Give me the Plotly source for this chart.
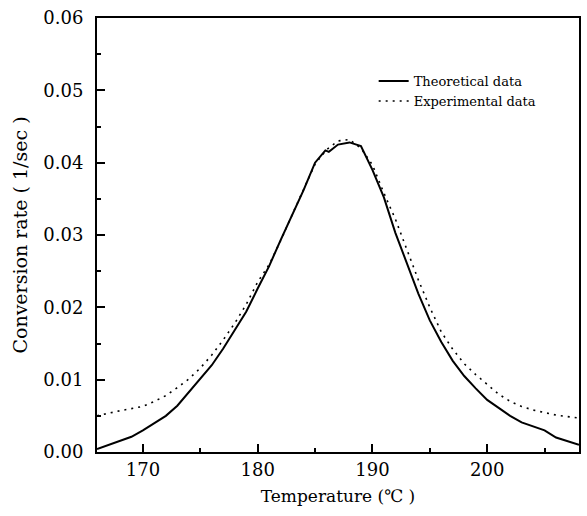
import plotly.graph_objects as go

temp_theory = [166, 167, 168, 169, 170, 171, 172, 173, 174, 175, 176, 177, 178, 179, 180,
               181, 182, 183, 184, 185, 185.9, 186.2, 187, 188, 189, 190, 191, 192, 193, 194,
               195, 196, 197, 198, 199, 200, 201, 202, 203, 204, 205, 206, 207, 208]
rate_theory = [0.0004, 0.0010, 0.0015, 0.0021, 0.0030, 0.0040, 0.0050, 0.0064, 0.0083, 0.0101,
               0.0120, 0.0143, 0.0168, 0.0194, 0.0226, 0.0257, 0.0293, 0.0328, 0.0362, 0.0400,
               0.0417, 0.0415, 0.0425, 0.0428, 0.0423, 0.0390, 0.0352, 0.0303, 0.0260, 0.0219,
               0.0182, 0.0152, 0.0126, 0.0105, 0.0088, 0.0072, 0.0061, 0.0050, 0.0041, 0.0035,
               0.0030, 0.0020, 0.0015, 0.0010]

temp_exp = [166, 167, 168, 169, 170, 171, 172, 173, 174, 175, 176, 177, 178, 179, 180, 181,
            182, 183, 184, 185, 186, 187, 188, 189, 190, 191, 192, 193, 194, 195, 196, 197,
            198, 199, 200, 201, 202, 203, 204, 205, 206, 207, 208]
rate_exp = [0.0050, 0.0054, 0.0057, 0.0060, 0.0063, 0.0070, 0.0078, 0.0089, 0.0101, 0.0116,
            0.0134, 0.0155, 0.0178, 0.0204, 0.0235, 0.0259, 0.0292, 0.0328, 0.0364, 0.0398,
            0.0418, 0.0430, 0.0432, 0.0420, 0.0397, 0.0358, 0.0322, 0.0280, 0.0238, 0.0200,
            0.0166, 0.0142, 0.0122, 0.0107, 0.0093, 0.0080, 0.0070, 0.0063, 0.0058, 0.0054,
            0.0051, 0.0049, 0.0047]

x_ticks = [170, 180, 190, 200]
y_ticks = [0.00, 0.01, 0.02, 0.03, 0.04, 0.05, 0.06]
y_tick_labels = ["0.00", "0.01", "0.02", "0.03", "0.04", "0.05", "0.06"]

FONT = "DejaVu Serif"

fig = go.Figure()
fig.add_trace(go.Scatter(x=temp_theory, y=rate_theory, mode="lines", name="Theoretical data",
                         line=dict(color="black", width=2)))
fig.add_trace(go.Scatter(x=temp_exp, y=rate_exp, mode="lines", name="Experimental data",
                         line=dict(color="black", width=1.6, dash="2px,5px")))

fig.update_layout(
    width=587, height=516,
    margin=dict(l=97, r=6, t=18, b=64),
    paper_bgcolor="white", plot_bgcolor="white",
    font=dict(family=FONT, color="black", size=17),
    showlegend=True,
    legend=dict(x=0.574, y=0.889, xanchor="left", yanchor="top",
                bgcolor="rgba(0,0,0,0)", borderwidth=0,
                font=dict(family=FONT, size=13), tracegroupgap=0),
)
fig.update_xaxes(
    range=[166, 208], tickvals=x_ticks, ticks="inside", ticklen=8, tickwidth=2,
    tickcolor="black", showline=True, linewidth=2, linecolor="black", mirror=True,
    showgrid=False, zeroline=False,
    minor=dict(dtick=5, tick0=165, ticks="inside", ticklen=4, tickwidth=1.5, tickcolor="black"),
    title=dict(text="Temperature (℃ )", font=dict(family=FONT, size=17), standoff=12),
    tickfont=dict(family=FONT, size=18),
)
fig.update_yaxes(
    range=[0, 0.06], tickvals=y_ticks, ticktext=y_tick_labels, ticks="inside", ticklen=8,
    tickwidth=2, tickcolor="black", showline=True, linewidth=2, linecolor="black", mirror=True,
    showgrid=False, zeroline=False, ticklabelstandoff=8,
    minor=dict(dtick=0.005, ticks="inside", ticklen=4, tickwidth=1.5, tickcolor="black"),
    title=dict(text="Conversion rate ( 1/sec )", font=dict(family=FONT, size=19), standoff=11),
    tickfont=dict(family=FONT, size=18),
)

fig.write_html("out.html", config={"displayModeBar": False},
               post_script="document.body.style.margin='0px';")
